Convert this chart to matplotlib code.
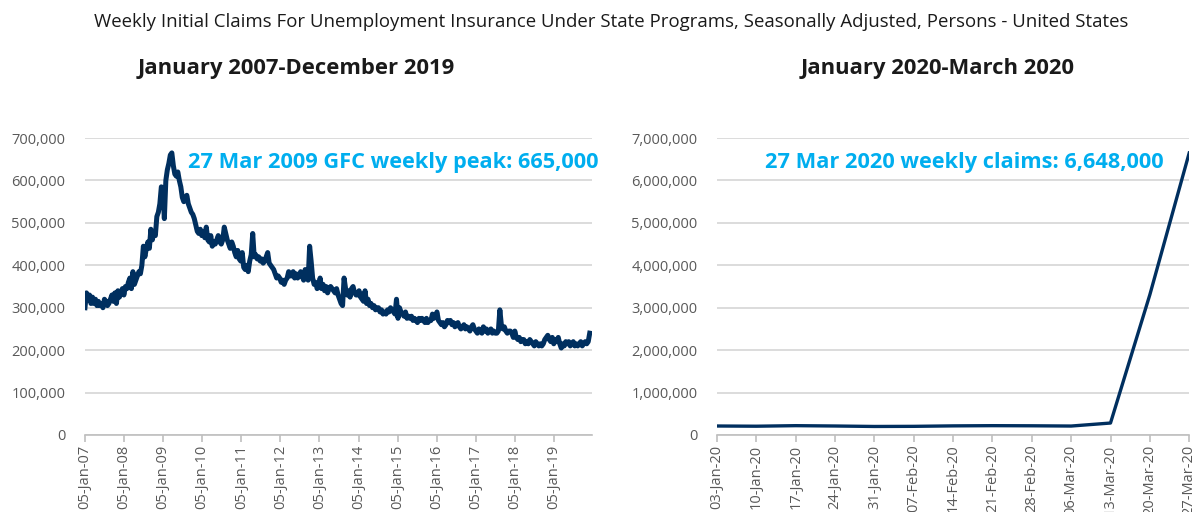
#!/usr/bin/env python3
"""US weekly initial jobless claims: 2007-2019 vs early 2020, two panels."""
import datetime as dt
import numpy as np
import pandas as pd
import matplotlib
matplotlib.use("Agg")
import matplotlib.pyplot as plt
import matplotlib.dates as mdates
from matplotlib.ticker import FuncFormatter

plt.rcParams["font.family"] = ["Open Sans", "DejaVu Sans"]

NAVY = "#002f5f"
CYAN = "#00aeef"
GRID = "#d9d9d9"
TXT = "#595959"

# ── data (thousands of persons, ~fortnightly samples) ───────────────────────────
claims_2007 = [300, 335, 320, 330, 310, 325, 310, 320, 305, 315, 305, 310, 300,
               320, 315, 305, 310, 320, 330, 315, 335, 310, 340, 325, 335, 345]
claims_2008 = [330, 350, 345, 360, 370, 345, 385, 355, 365, 375, 385, 380, 400,
               445, 420, 440, 455, 440, 485, 460, 480, 470, 515, 525, 545, 585]
claims_2009 = [580, 510, 600, 625, 640, 660, 665, 635, 615, 610, 620, 600, 585,
               560, 550, 555, 565, 545, 535, 525, 520, 510, 495, 480, 475, 485]
claims_2010 = [470, 480, 465, 490, 460, 455, 470, 445, 455, 450, 460, 470, 455,
               450, 460, 490, 475, 460, 450, 440, 455, 445, 430, 420, 435, 415]
claims_2011 = [410, 430, 395, 390, 400, 385, 410, 425, 475, 420, 425, 415, 420,
               410, 415, 405, 410, 420, 430, 405, 400, 395, 390, 380, 370, 375]
claims_2012 = [370, 360, 365, 355, 365, 370, 385, 375, 375, 385, 370, 380, 370,
               375, 385, 375, 365, 390, 375, 365, 445, 410, 370, 355, 360, 345]
claims_2013 = [350, 370, 345, 355, 340, 350, 335, 345, 350, 345, 340, 335, 345,
               330, 320, 310, 305, 370, 345, 330, 340, 325, 345, 350, 335, 330]
claims_2014 = [330, 340, 325, 320, 315, 340, 310, 320, 305, 310, 300, 305, 295,
               300, 300, 290, 295, 285, 290, 285, 295, 290, 300, 295, 290, 285]
claims_2015 = [320, 275, 300, 290, 285, 280, 290, 275, 280, 275, 280, 270, 275,
               270, 265, 275, 270, 275, 270, 265, 275, 265, 270, 270, 285, 275]
claims_2016 = [280, 290, 270, 265, 260, 265, 255, 260, 270, 265, 270, 260, 265,
               255, 260, 265, 255, 250, 255, 260, 250, 255, 250, 245, 255, 260]
claims_2017 = [250, 245, 240, 250, 245, 240, 255, 245, 250, 240, 245, 250, 240,
               245, 240, 240, 245, 295, 260, 250, 255, 245, 240, 245, 245, 240]
claims_2018 = [230, 245, 230, 225, 230, 220, 225, 225, 215, 220, 215, 225, 220,
               215, 210, 220, 215, 210, 215, 210, 215, 225, 230, 235, 225, 220]
claims_2019 = [230, 215, 225, 220, 230, 215, 205, 215, 210, 220, 215, 220, 210,
               215, 220, 210, 215, 210, 215, 220, 210, 215, 220, 215, 220, 240]

hist_k = np.array(claims_2007 + claims_2008 + claims_2009 + claims_2010
                  + claims_2011 + claims_2012 + claims_2013 + claims_2014
                  + claims_2015 + claims_2016 + claims_2017 + claims_2018
                  + claims_2019)
hist_dates = pd.date_range("2007-01-05", periods=len(hist_k), freq="14D")
hist_years = list(range(2007, 2020))

weeks_2020 = ["03-Jan-20", "10-Jan-20", "17-Jan-20", "24-Jan-20", "31-Jan-20",
              "07-Feb-20", "14-Feb-20", "21-Feb-20", "28-Feb-20", "06-Mar-20",
              "13-Mar-20", "20-Mar-20", "27-Mar-20"]
claims_2020 = [212000, 207000, 220000, 212000, 201000, 204000, 215000, 220000,
               217000, 211000, 282000, 3307000, 6648000]

# ── figure ──────────────────────────────────────────────────────────────────────
fig = plt.figure(figsize=(12, 5.12), dpi=100)
ax0 = fig.add_axes([0.0708, 0.1504, 0.4225, 0.580])
ax1 = fig.add_axes([0.5975, 0.1504, 0.3935, 0.580])

thousands = FuncFormatter(lambda v, p: f"{v:,.0f}")


def style(ax):
    for s in ("top", "right", "left"):
        ax.spines[s].set_visible(False)
    ax.spines["bottom"].set_color("#bfbfbf")
    ax.spines["bottom"].set_linewidth(1.2)
    ax.grid(axis="y", color=GRID, lw=1.3)
    ax.set_axisbelow(True)
    ax.tick_params(axis="y", length=0, labelsize=10.5, labelcolor=TXT, pad=14)
    ax.tick_params(axis="x", length=5, width=1.2, color="#bfbfbf",
                   labelsize=10.5, labelcolor=TXT, labelrotation=90, pad=2)
    ax.yaxis.set_major_formatter(thousands)


# left panel
ax0.plot(hist_dates, hist_k * 1000, color=NAVY, lw=3.6, solid_joinstyle="round")
style(ax0)
ax0.set_ylim(0, 700000)
ax0.set_yticks(np.arange(0, 700001, 100000))
ax0.set_xlim(dt.date(2007, 1, 5), dt.date(2019, 12, 27))
ax0.set_xticks([dt.date(y, 1, 5) for y in hist_years])
ax0.xaxis.set_major_formatter(mdates.DateFormatter("%d-%b-%y"))
ax0.text(0.203, 0.917, "27 Mar 2009 GFC weekly peak: 665,000", transform=ax0.transAxes,
         color=CYAN, fontsize=15.7, fontweight="bold", ha="left", va="center",
         clip_on=False)

# right panel
x20 = np.arange(len(weeks_2020))
ax1.plot(x20, claims_2020, color=NAVY, lw=2.4, solid_joinstyle="round")
style(ax1)
ax1.set_ylim(0, 7000000)
ax1.set_yticks(np.arange(0, 7000001, 1000000))
ax1.set_xlim(0, len(weeks_2020) - 1)
ax1.set_xticks(x20)
ax1.set_xticklabels(weeks_2020)
ax1.text(0.1017, 0.917, "27 Mar 2020 weekly claims: 6,648,000", transform=ax1.transAxes,
         color=CYAN, fontsize=15.7, fontweight="bold", ha="left", va="center")

fig.text(0.5096, 0.957, "Weekly Initial Claims For Unemployment Insurance Under State "
         "Programs, Seasonally Adjusted, Persons - United States",
         ha="center", va="center", fontsize=13.4, color="#1a1a1a")
fig.text(0.2467, 0.867, "January 2007-December 2019", ha="center", va="center",
         fontsize=15.8, fontweight="bold", color="#1a1a1a")
fig.text(0.781, 0.867, "January 2020-March 2020", ha="center", va="center",
         fontsize=15.8, fontweight="bold", color="#1a1a1a")

fig.savefig("out.png", dpi=100)
plt.close(fig)
